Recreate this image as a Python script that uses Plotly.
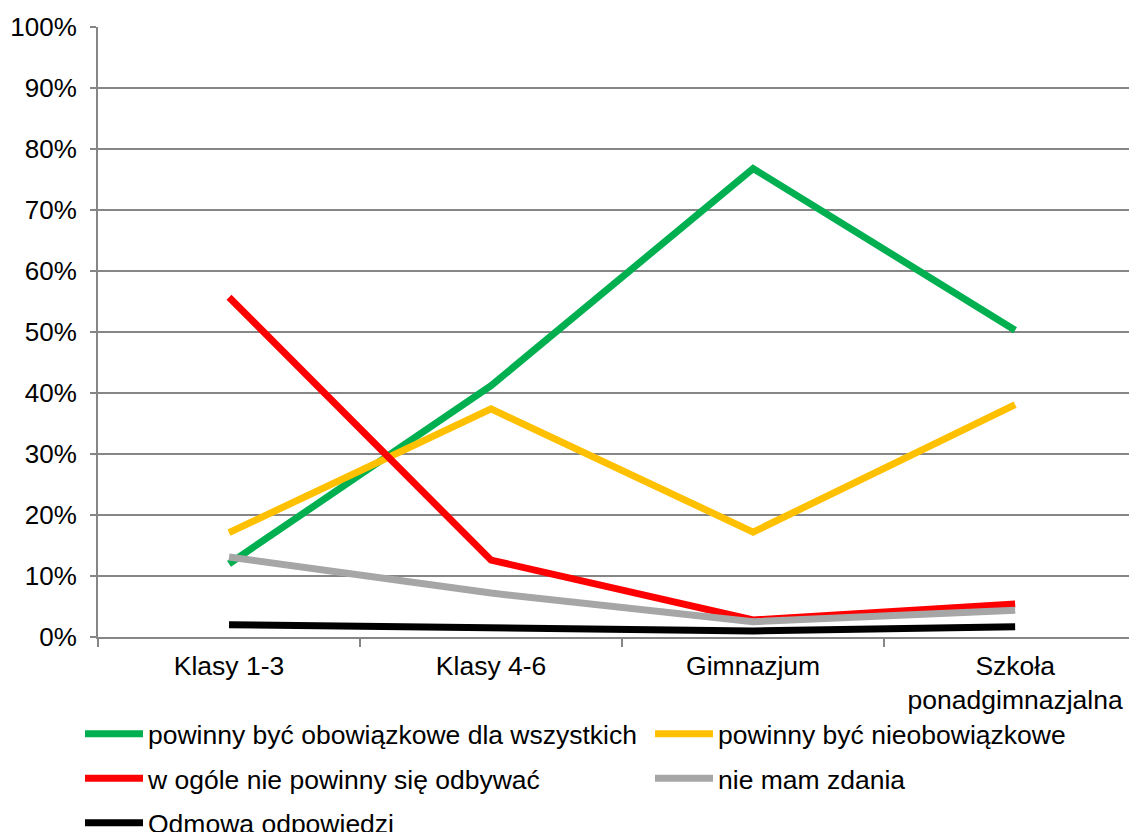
import plotly.graph_objects as go

categories = ["Klasy 1-3", "Klasy 4-6", "Gimnazjum", "Szkoła<br>ponadgimnazjalna"]

series_names = [
    "powinny być obowiązkowe dla wszystkich",
    "powinny być nieobowiązkowe",
    "w ogóle nie powinny się odbywać",
    "nie mam zdania",
    "Odmowa odpowiedzi",
]
obowiazkowe = [0.120, 0.412, 0.768, 0.503]
nieobowiazkowe = [0.171, 0.374, 0.172, 0.381]
nie_powinny = [0.557, 0.126, 0.028, 0.054]
nie_mam_zdania = [0.131, 0.072, 0.025, 0.044]
odmowa = [0.020, 0.014, 0.010, 0.017]

colors = ["#00B050", "#FFC000", "#FF0000", "#A6A6A6", "#000000"]
values = [obowiazkowe, nieobowiazkowe, nie_powinny, nie_mam_zdania, odmowa]
legend_ids = ["legend", "legend2", "legend", "legend2", "legend"]

FONT = "Liberation Sans, Arial, sans-serif"
FS = 26
FS_BIG = 26.5
W, H = 1129, 824  # page body has an 8px margin

fig = go.Figure()
for i, (name, vals, col, lg) in enumerate(zip(series_names, values, colors, legend_ids)):
    fig.add_trace(go.Scatter(
        x=categories, y=vals, name=name, mode="lines",
        line=dict(color=col, width=7),
        legend=lg, legendgroup="g%d" % i,
    ))

leg_common = dict(
    orientation="v", xref="container", yref="container",
    xanchor="left", yanchor="top",
    itemwidth=58, font=dict(size=FS_BIG, family=FONT),
    traceorder="grouped", tracegroupgap=7,
    bgcolor="rgba(0,0,0,0)",
)

fig.update_layout(
    width=W, height=H,
    margin=dict(l=90, r=0, t=19, b=195, autoexpand=False),
    paper_bgcolor="white", plot_bgcolor="white",
    font=dict(family=FONT, size=FS, color="black"),
    showlegend=True,
    legend=dict(x=72 / W, y=1 - 702 / H, **leg_common),
    legend2=dict(x=642 / W, y=1 - 702 / H, **leg_common),
)
fig.update_xaxes(
    type="category", range=[-0.5, 3.465],
    showline=True, linecolor="#868686", linewidth=2,
    tickson="boundaries", ticks="outside", ticklen=8, tickcolor="#868686", tickwidth=2,
    showgrid=False, tickfont=dict(size=FS_BIG), ticklabelstandoff=4,
)
fig.update_yaxes(
    range=[0, 1], tickvals=[i / 10 for i in range(11)], tickformat=".0%",
    showline=True, linecolor="#868686", linewidth=2,
    ticks="outside", ticklen=6, tickcolor="#868686", tickwidth=2,
    showgrid=True, gridcolor="#868686", gridwidth=2,
    zeroline=False, tickfont=dict(size=FS), ticklabelstandoff=8,
)

fig.write_html("out.html")
